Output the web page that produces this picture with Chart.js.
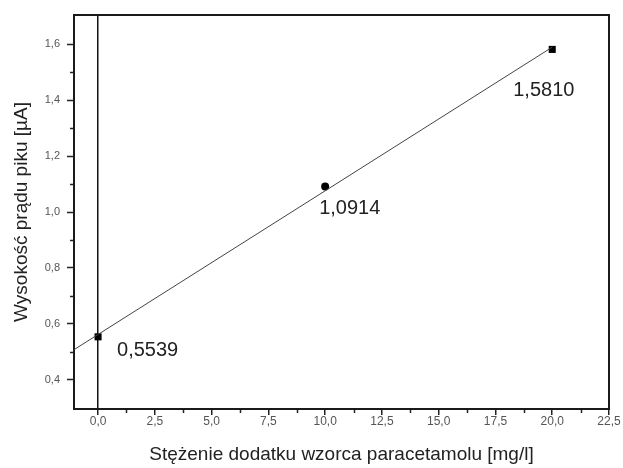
<!DOCTYPE html>
<html>
<head>
<meta charset="utf-8">
<script src="https://cdn.jsdelivr.net/npm/chart.js@4"></script>
<style>
  body { margin: 0; background: #fff; }
  canvas { display: block; }
</style>
</head>
<body>
<canvas id="chart" width="623" height="468"></canvas>
<script>
// data
const concentration = [0, 10, 20];                  // mg/l
const peakCurrent = [0.5539, 1.0914, 1.5810];       // µA
const pointLabels = ["0,5539", "1,0914", "1,5810"];
const pointShapes = ["rect", "circle", "rect"];

// fitted line, end points
const fitX = [-1.06, 20];
const fitY = [0.508, 1.589];

const xTicks = [0, 2.5, 5, 7.5, 10, 12.5, 15, 17.5, 20, 22.5];
const xTickLabels = ["0,0", "2,5", "5,0", "7,5", "10,0", "12,5", "15,0", "17,5", "20,0", "22,5"];
const xMinorTicks = [1.25, 3.75, 6.25, 8.75, 11.25, 13.75, 16.25, 18.75, 21.25];
const yTicks = [0.4, 0.6, 0.8, 1.0, 1.2, 1.4, 1.6];
const yTickLabels = ["0,4", "0,6", "0,8", "1,0", "1,2", "1,4", "1,6"];
const yMinorTicks = [0.5, 0.7, 0.9, 1.1, 1.3, 1.5];

const xTitle = "Stężenie dodatku wzorca paracetamolu [mg/l]";
const yTitle = "Wysokość prądu piku [µA]";

// label offsets from each point, in px
const labelOffsets = [[19, 14], [-6, 22], [-39, 41]];

const FONT = "Arial, 'Liberation Sans', sans-serif";

const framePlugin = {
  id: "frame",
  beforeDatasetsDraw(chart) {
    const { ctx, chartArea: a, scales } = chart;
    ctx.save();
    ctx.strokeStyle = "#222";
    ctx.lineWidth = 1.5;
    ctx.beginPath();
    // minor ticks
    xMinorTicks.forEach(v => {
      const px = Math.round(scales.x.getPixelForValue(v)) + 0.5;
      ctx.moveTo(px, a.bottom);
      ctx.lineTo(px, a.bottom + 4);
    });
    yMinorTicks.forEach(v => {
      const py = Math.round(scales.y.getPixelForValue(v)) + 0.5;
      ctx.moveTo(a.left, py);
      ctx.lineTo(a.left - 4, py);
    });
    ctx.stroke();
    ctx.lineWidth = 2;
    ctx.strokeStyle = "#1a1a1a";
    ctx.strokeRect(a.left, a.top, a.right - a.left, a.bottom - a.top);
    ctx.restore();
  },
  afterDatasetsDraw(chart) {
    const { ctx, scales } = chart;
    ctx.save();
    ctx.font = "20px " + FONT;
    ctx.fillStyle = "#222";
    ctx.textAlign = "left";
    ctx.textBaseline = "middle";
    concentration.forEach((c, i) => {
      const px = scales.x.getPixelForValue(c);
      const py = scales.y.getPixelForValue(peakCurrent[i]);
      ctx.fillText(pointLabels[i], px + labelOffsets[i][0], py + labelOffsets[i][1]);
    });
    ctx.restore();
  }
};

new Chart(document.getElementById("chart"), {
  type: "scatter",
  data: {
    datasets: [
      {
        data: fitX.map((x, i) => ({ x: x, y: fitY[i] })),
        showLine: true,
        borderColor: "#444",
        borderWidth: 1,
        pointRadius: 0,
      },
      {
        data: concentration.map((x, i) => ({ x: x, y: peakCurrent[i] })),
        pointStyle: pointShapes,
        pointRadius: [5, 4, 5],
        backgroundColor: "#000",
        borderColor: "#000",
        borderWidth: 0,
      },
    ],
  },
  options: {
    responsive: false,
    animation: false,
    devicePixelRatio: 1,
    layout: { padding: { top: 15, right: 14, left: 0, bottom: 0 } },
    plugins: { legend: { display: false }, tooltip: { enabled: false } },
    scales: {
      x: {
        type: "linear",
        min: -1.06,
        max: 22.5,
        afterBuildTicks: s => { s.ticks = xTicks.map(v => ({ value: v })); },
        afterFit: s => { s.height = 59; },
        border: { display: false },
        grid: {
          color: c => (c.tick && c.tick.value === 0 ? "#111" : "rgba(0,0,0,0)"),
          lineWidth: 1.5,
          tickColor: "#222",
          tickWidth: 1.5,
          tickLength: 6,
        },
        ticks: {
          callback: (v, i) => xTickLabels[i],
          color: "#555",
          font: { family: FONT, size: 12 },
          padding: -1,
          maxRotation: 0,
        },
        title: {
          display: true,
          text: xTitle,
          color: "#222",
          font: { family: FONT, size: 19 },
          padding: { top: 0, bottom: 2 },
        },
      },
      y: {
        type: "linear",
        min: 0.296,
        max: 1.704,
        afterBuildTicks: s => { s.ticks = yTicks.map(v => ({ value: v })); },
        afterFit: s => { s.width = 74; },
        border: { display: false },
        grid: {
          drawOnChartArea: false,
          tickColor: "#222",
          tickWidth: 1.5,
          tickLength: 7,
        },
        ticks: {
          callback: (v, i) => yTickLabels[i],
          color: "#555",
          font: { family: FONT, size: 11 },
          padding: 7,
        },
        title: {
          display: true,
          text: yTitle,
          color: "#222",
          font: { family: FONT, size: 19 },
          padding: { top: 10, bottom: 0 },
        },
      },
    },
  },
  plugins: [framePlugin],
});
</script>
</body>
</html>
